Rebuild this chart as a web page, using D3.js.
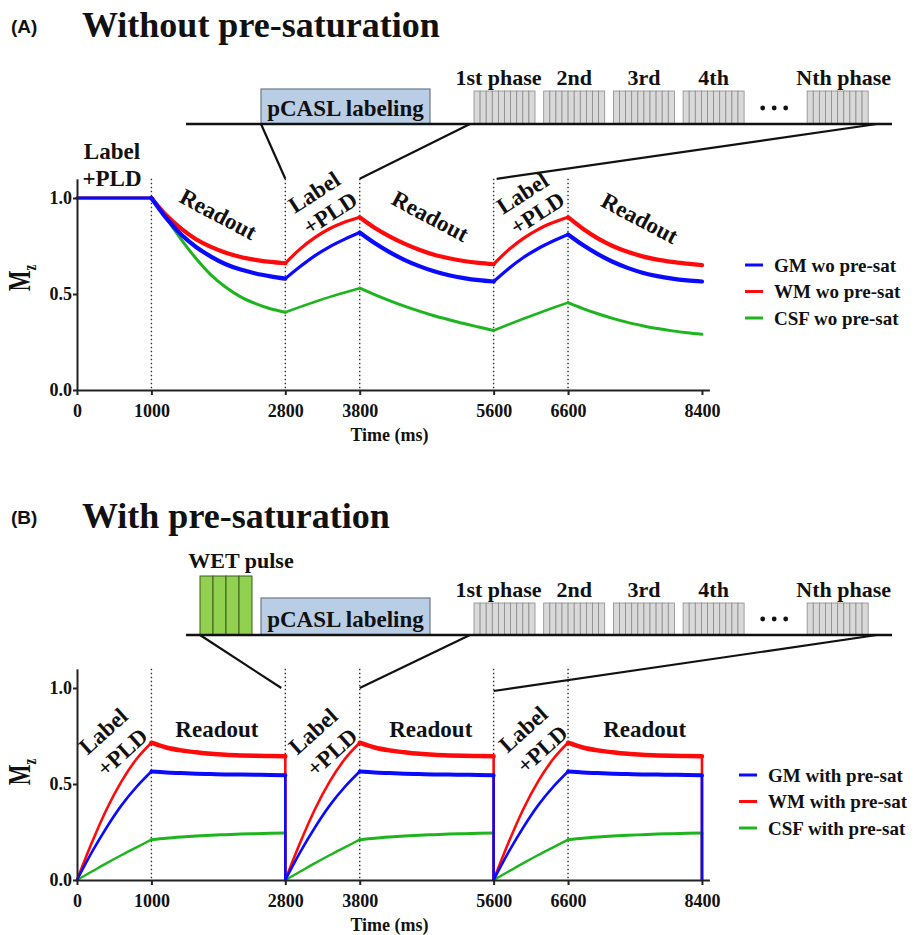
<!DOCTYPE html>
<html>
<head>
<meta charset="utf-8">
<script src="https://cdn.jsdelivr.net/npm/d3@7"></script>
<style>
body { margin: 0; background: #fff; }
text { font-family: "Liberation Serif", "Times New Roman", serif; font-weight: bold; fill: #111; }
</style>
</head>
<body>
<div id="chart"></div>
<script>
// ---------- data ----------
const phaseTimes = [1000, 2800, 3800, 5600, 6600];      // dotted phase boundaries
const readoutStarts = [1000, 3800, 6600];
const segBounds = [0, 1000, 2800, 3800, 5600, 6600, 8400];
const xTicks = [0, 1000, 2800, 3800, 5600, 6600, 8400];
const yTicks = [0, 0.5, 1.0];
const seriesColors = ["#0a0aff", "#ff0a0a", "#1eb41e"]; // GM, WM, CSF

// (A) without pre-saturation
const timeA = [0, 1000, 1200, 1400, 1600, 1800, 2000, 2200, 2400, 2600, 2800,
  3000, 3200, 3400, 3600, 3800, 4000, 4200, 4400, 4600, 4800, 5000, 5200, 5400, 5600,
  5800, 6000, 6200, 6400, 6600, 6800, 7000, 7200, 7400, 7600, 7800, 8000, 8200, 8400];
const gmA = [1.00, 1.00, 0.895, 0.81, 0.745, 0.695, 0.655, 0.627, 0.607, 0.592, 0.58,
  0.643, 0.70, 0.747, 0.786, 0.82, 0.765, 0.718, 0.678, 0.645, 0.618, 0.598, 0.583, 0.572, 0.565,
  0.632, 0.69, 0.737, 0.776, 0.81, 0.755, 0.708, 0.668, 0.636, 0.611, 0.593, 0.58, 0.571, 0.565];
const wmA = [1.00, 1.00, 0.91, 0.84, 0.785, 0.745, 0.715, 0.693, 0.678, 0.667, 0.66,
  0.735, 0.795, 0.841, 0.875, 0.90, 0.845, 0.80, 0.762, 0.73, 0.704, 0.686, 0.672, 0.662, 0.655,
  0.73, 0.79, 0.837, 0.872, 0.90, 0.84, 0.79, 0.75, 0.72, 0.696, 0.679, 0.667, 0.658, 0.65];
const csfA = [1.00, 1.00, 0.895, 0.785, 0.685, 0.60, 0.535, 0.485, 0.45, 0.423, 0.405,
  0.433, 0.46, 0.485, 0.508, 0.53, 0.497, 0.466, 0.437, 0.411, 0.387, 0.366, 0.346, 0.328, 0.31,
  0.341, 0.371, 0.40, 0.428, 0.455, 0.424, 0.397, 0.373, 0.352, 0.335, 0.32, 0.308, 0.298, 0.29];

// (B) with pre-saturation: one 2800 ms cycle, repeated at each cycle start
const cycleStartsB = [0, 2800, 5600];
const cycleTimeB = [0, 200, 400, 600, 800, 1000, 1200, 1400, 1600, 1800, 2000, 2200, 2400, 2600, 2800, 2800];
const gmB  = [0, 0.145, 0.275, 0.39, 0.485, 0.565, 0.56, 0.557, 0.554, 0.552, 0.55, 0.549, 0.548, 0.547, 0.545, 0];
const wmB  = [0, 0.195, 0.37, 0.515, 0.63, 0.715, 0.69, 0.675, 0.665, 0.657, 0.652, 0.649, 0.647, 0.646, 0.645, 0];
const csfB = [0, 0.044, 0.088, 0.13, 0.17, 0.21, 0.218, 0.224, 0.229, 0.233, 0.236, 0.239, 0.241, 0.243, 0.245, 0];

const legendA = ["GM wo pre-sat", "WM wo pre-sat", "CSF wo pre-sat"];
const legendB = ["GM with pre-sat", "WM with pre-sat", "CSF with pre-sat"];
const phaseLabels = ["1st phase", "2nd", "3rd", "4th", "Nth phase"];
const phaseSlots = [0, 1, 2, 3, 4.78];
const phaseLabelShift = [-6, 0, 0, 0, 6];

// ---------- canvas ----------
const svg = d3.select("#chart").append("svg")
    .attr("width", 914)
    .attr("height", 935);

const x = d3.scaleLinear().domain([0, 8500]).range([77, 709.4]);

function toPoints(times, vals) {
    return times.map((t, i) => ({t: t, v: vals[i]}));
}
function cyclePoints(vals) {
    let pts = [];
    cycleStartsB.forEach(s => {
        cycleTimeB.forEach((t, i) => pts.push({t: s + t, v: vals[i]}));
    });
    return pts;
}

// break a series into phase segments (and vertical drops)
function splitSegments(pts) {
    const segs = [];
    let cur = [pts[0]];
    for (let i = 1; i < pts.length; i++) {
        const p = pts[i], prev = pts[i - 1];
        if (p.t === prev.t) {
            if (cur.length > 1) segs.push({pts: cur, kind: "seg"});
            segs.push({pts: [prev, p], kind: "drop"});
            cur = [p];
            continue;
        }
        cur.push(p);
        if (segBounds.includes(p.t)) {
            segs.push({pts: cur, kind: "seg"});
            cur = [p];
        }
    }
    if (cur.length > 1) segs.push({pts: cur, kind: "seg"});
    return segs;
}

function drawPanel(cfg) {
    const y = d3.scaleLinear().domain([0, 1.1]).range([cfg.y0, cfg.yTop]);
    const g = svg.append("g");

    // dotted phase lines
    g.selectAll(".phase")
        .data(phaseTimes)
        .enter()
        .append("line")
        .attr("x1", d => x(d)).attr("x2", d => x(d))
        .attr("y1", y(1.1)).attr("y2", y(0))
        .attr("stroke", "#333")
        .attr("stroke-width", 1.4)
        .attr("stroke-dasharray", "1.4,2.6");

    // curves
    const smooth = d3.line().x(d => x(d.t)).y(d => y(d.v)).curve(d3.curveMonotoneX);
    const straight = d3.line().x(d => x(d.t)).y(d => y(d.v));
    const order = [2, 1, 0]; // CSF, WM, GM on top
    order.forEach(k => {
        const segs = splitSegments(cfg.series[k]);
        g.selectAll(null)
            .data(segs)
            .enter()
            .append("path")
            .attr("d", s => s.kind === "drop" ? straight(s.pts) : smooth(s.pts))
            .attr("fill", "none")
            .attr("stroke", seriesColors[k])
            .attr("stroke-linecap", "round")
            .attr("stroke-linejoin", "round")
            .attr("stroke-width", s => {
                if (s.kind === "drop") return 2.6;
                return readoutStarts.includes(s.pts[0].t) ? cfg.readW[k] : cfg.labelW[k];
            });
    });

    // axes
    const xAxis = d3.axisBottom(x).tickValues(xTicks).tickFormat(d3.format("d"))
        .tickSize(5).tickSizeOuter(0).tickPadding(9);
    const yAxis = d3.axisLeft(y).tickValues(yTicks).tickFormat(d3.format(".1f"))
        .tickSize(4).tickSizeOuter(0).tickPadding(1);
    const gx = g.append("g").attr("transform", `translate(0,${y(0)})`).call(xAxis);
    const gy = g.append("g").attr("transform", `translate(${x(0)},0)`).call(yAxis);
    [gx, gy].forEach(a => {
        a.attr("font-family", null).attr("font-size", null);
        a.selectAll("path,line").attr("stroke", "#222").attr("stroke-width", 2);
        a.selectAll("text").style("font-size", "18px").attr("fill", "#111");
    });

    g.append("text")
        .attr("x", x(4200))
        .attr("y", y(0) + 51)
        .attr("text-anchor", "middle")
        .style("font-size", "18px")
        .text("Time (ms)");

    const mz = g.append("text")
        .attr("transform", `translate(30,${cfg.mzY}) rotate(-90) scale(1,1.4)`)
        .attr("text-anchor", "middle")
        .style("font-size", "22px");
    mz.append("tspan").text("M");
    mz.append("tspan").attr("dy", 4).style("font-size", "13px").text("z");

    // legend
    cfg.legend.forEach((name, i) => {
        const ly = cfg.legendY + i * 26.5;
        g.append("line")
            .attr("x1", cfg.legendX).attr("x2", cfg.legendX + 18)
            .attr("y1", ly).attr("y2", ly)
            .attr("stroke", seriesColors[i])
            .attr("stroke-width", 3);
        g.append("text")
            .attr("x", cfg.legendX + 29)
            .attr("y", ly)
            .attr("dy", "0.35em")
            .style("font-size", "19px")
            .text(name);
    });

    // phase annotations
    cfg.notes.forEach(n => {
        g.append("text")
            .attr("transform", `translate(${x(n.t)},${n.y}) rotate(${n.rot})`)
            .attr("text-anchor", "middle")
            .attr("dy", n.base ? 0 : "0.35em")
            .style("font-size", "23px")
            .text(n.text);
    });

    return y;
}

function drawDiagram(cfg) {
    const g = svg.append("g");
    const slot = d3.scaleLinear().domain([0, 1]).range([474, 543.7]);
    const blockW = 61;

    // title
    g.append("text")
        .attr("x", 11).attr("y", cfg.titleY - 4)
        .style("font-family", "'Liberation Sans', Arial, sans-serif")
        .style("font-size", "19px")
        .text(cfg.tag);
    g.append("text")
        .attr("x", 82).attr("y", cfg.titleY)
        .style("font-size", "36px")
        .text(cfg.title);

    // WET pulse
    if (cfg.wet) {
        g.selectAll(".wet")
            .data([0, 1, 2, 3])
            .enter()
            .append("rect")
            .attr("x", d => 200 + d * 13)
            .attr("y", cfg.baseY - 59)
            .attr("width", 13)
            .attr("height", 59)
            .attr("fill", "#92d050")
            .attr("stroke", "#3b5e1f")
            .attr("stroke-width", 1);
        g.append("text")
            .attr("x", 241).attr("y", cfg.baseY - 67)
            .attr("text-anchor", "middle")
            .style("font-size", "22px")
            .text("WET pulse");
    }

    // pCASL labeling box
    g.append("rect")
        .attr("x", 261).attr("y", cfg.baseY - cfg.boxH)
        .attr("width", 169).attr("height", cfg.boxH)
        .attr("fill", "#b9cde5")
        .attr("stroke", "#6f7a86")
        .attr("stroke-width", 1.2);
    g.append("text")
        .attr("x", 345.5).attr("y", cfg.baseY - 8.5)
        .attr("text-anchor", "middle")
        .style("font-size", "23px")
        .text("pCASL labeling");

    // readout phases
    phaseSlots.forEach((s, i) => {
        const x0 = slot(s);
        g.selectAll(null)
            .data(d3.range(10))
            .enter()
            .append("rect")
            .attr("x", d => x0 + d * blockW / 10)
            .attr("y", cfg.baseY - cfg.blockH)
            .attr("width", blockW / 10)
            .attr("height", cfg.blockH)
            .attr("fill", "#d9d9d9")
            .attr("stroke", "#8a8a8a")
            .attr("stroke-width", 0.8);
        g.append("text")
            .attr("x", x0 + blockW / 2 + phaseLabelShift[i])
            .attr("y", cfg.baseY - cfg.blockH - 6)
            .attr("text-anchor", "middle")
            .style("font-size", "22px")
            .text(phaseLabels[i]);
    });

    // ellipsis
    g.selectAll(".dot")
        .data([0, 1, 2])
        .enter()
        .append("circle")
        .attr("cx", d => 762.7 + d * 11.5)
        .attr("cy", cfg.baseY - 16)
        .attr("r", 2.4)
        .attr("fill", "#111");

    // baseline
    g.append("line")
        .attr("x1", 186).attr("x2", 892)
        .attr("y1", cfg.baseY).attr("y2", cfg.baseY)
        .attr("stroke", "#111")
        .attr("stroke-width", 2.5);

    // zoom connectors to the plot
    cfg.links.forEach(l => {
        g.append("line")
            .attr("x1", l[0]).attr("y1", cfg.baseY)
            .attr("x2", l[1]).attr("y2", l[2])
            .attr("stroke", "#111")
            .attr("stroke-width", 2.2);
    });
}

// ---------- panel A ----------
const yA = drawPanel({
    y0: 390, yTop: 178.8, mzY: 278,
    series: [toPoints(timeA, gmA), toPoints(timeA, wmA), toPoints(timeA, csfA)],
    readW: [4.2, 4.2, 3], labelW: [3.2, 3.2, 2.6],
    legend: legendA, legendX: 745, legendY: 265,
    notes: [
        {text: "Label", t: 470, y: 159, rot: 0, base: true},
        {text: "+PLD", t: 470, y: 186, rot: 0, base: true},
        {text: "Readout", t: 1900, y: 214, rot: 28},
        {text: "Label", t: 3185, y: 192, rot: -33},
        {text: "+PLD", t: 3400, y: 213, rot: -33},
        {text: "Readout", t: 4750, y: 216, rot: 28},
        {text: "Label", t: 5985, y: 193, rot: -33},
        {text: "+PLD", t: 6185, y: 213, rot: -33},
        {text: "Readout", t: 7565, y: 218, rot: 28}
    ]
});
drawDiagram({
    tag: "(A)", title: "Without pre-saturation", titleY: 37,
    baseY: 124, boxH: 35, blockH: 33, wet: false,
    links: [[261, x(2800), yA(1.1)], [470, x(3800), yA(1.1)], [877, x(5600) + 3, yA(1.1)]]
});

// ---------- panel B ----------
const yB = drawPanel({
    y0: 880, yTop: 668.8, mzY: 772,
    series: [cyclePoints(gmB), cyclePoints(wmB), cyclePoints(csfB)],
    readW: [4, 4.5, 3], labelW: [2.6, 2.6, 2.4],
    legend: legendB, legendX: 739, legendY: 775,
    notes: [
        {text: "Label", t: 350, y: 731, rot: -42},
        {text: "+PLD", t: 605, y: 752, rot: -42},
        {text: "Readout", t: 1880, y: 737, rot: 0, base: true},
        {text: "Label", t: 3170, y: 731, rot: -42},
        {text: "+PLD", t: 3425, y: 752, rot: -42},
        {text: "Readout", t: 4755, y: 737, rot: 0, base: true},
        {text: "Label", t: 5995, y: 729, rot: -42},
        {text: "+PLD", t: 6250, y: 749, rot: -42},
        {text: "Readout", t: 7630, y: 737, rot: 0, base: true}
    ]
});
drawDiagram({
    tag: "(B)", title: "With pre-saturation", titleY: 528,
    baseY: 635, boxH: 37, blockH: 32, wet: true,
    links: [[200, x(2800) - 4, yB(1.0)], [470, x(3800), yB(1.0)], [877, x(5600), yB(1.0) + 3]]
});
</script>
</body>
</html>
